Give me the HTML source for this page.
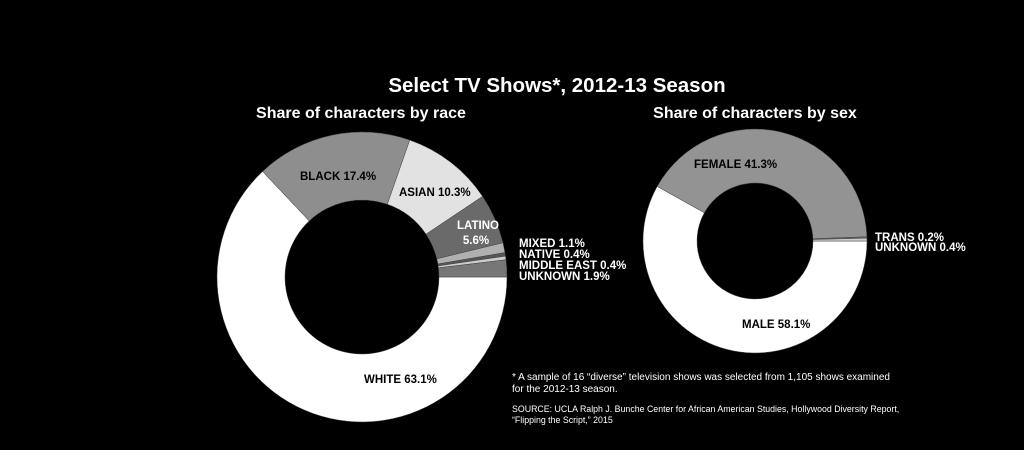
<!DOCTYPE html>
<html><head><meta charset="utf-8"><style>
body{margin:0;background:#000;width:1024px;height:445px;overflow:hidden;font-family:"Liberation Sans",sans-serif}
svg text{font-family:"Liberation Sans",sans-serif}
</style></head><body>
<svg id="chart" width="1024" height="445">
<text x="557" y="92" text-anchor="middle" fill="#fff" font-size="20.5" font-weight="bold">Select TV Shows*, 2012-13 Season</text>
<text x="361" y="118" text-anchor="middle" fill="#fff" font-size="16" font-weight="bold">Share of characters by race</text>
<text x="755" y="118" text-anchor="middle" fill="#fff" font-size="16" font-weight="bold">Share of characters by sex</text>
<g id="race"></g><g id="sex"></g>
<g fill="#000" font-size="11.5" font-weight="bold">
<text x="300" y="180">BLACK 17.4%</text>
<text x="399" y="196">ASIAN 10.3%</text>
<text x="478" y="229" text-anchor="middle" fill="#fff">LATINO</text>
<text x="476" y="244" text-anchor="middle" fill="#fff">5.6%</text>
<text x="364" y="383">WHITE 63.1%</text>
<text x="694" y="168">FEMALE 41.3%</text>
<text x="742" y="328">MALE 58.1%</text>
</g>
<g fill="#fff" font-size="11.5" font-weight="bold">
<text x="519" y="247">MIXED 1.1%</text>
<text x="519" y="258">NATIVE 0.4%</text>
<text x="519" y="269">MIDDLE EAST 0.4%</text>
<text x="519" y="280">UNKNOWN 1.9%</text>
<text x="875" y="241">TRANS 0.2%</text>
<text x="875" y="251">UNKNOWN 0.4%</text>
</g>
<g fill="#fff" font-size="10">
<text x="512" y="380">* A sample of 16 “diverse” television shows was selected from 1,105 shows examined</text>
<text x="512" y="392">for the 2012-13 season.</text>
<text x="512" y="412" font-size="8.8">SOURCE: UCLA Ralph J. Bunche Center for African American Studies, Hollywood Diversity Report,</text>
<text x="512" y="423" font-size="8.8">“Flipping the Script,” 2015</text>
</g>
</svg>
<script>
const raceCategories=["white","black","asian","latino","mixed","native","middle-east","unknown"];
const raceValues=[63.1,17.4,10.3,5.6,1.1,0.4,0.4,1.9];
const raceColors=["#ffffff","#8e8e8e","#e2e2e2","#6a6a6a","#b0b0b0","#555555","#cccccc","#777777"];
const sexCategories=["male","female","trans","unknown"];
const sexValues=[58.1,41.3,0.2,0.4];
const sexColors=["#ffffff","#939393","#666666","#cccccc"];
const NS="http://www.w3.org/2000/svg";
function donut(g,cats,vals,cols,cx,cy,R,r){
  const tot=vals.reduce((a,b)=>a+b,0);let a0=0;
  vals.forEach((v,i)=>{
    const a1=a0+v/tot*2*Math.PI;
    const p=(a,rad)=>[cx+rad*Math.cos(a),cy+rad*Math.sin(a)];
    const [x0,y0]=p(a0,R),[x1,y1]=p(a1,R),[x2,y2]=p(a1,r),[x3,y3]=p(a0,r);
    const lg=(a1-a0)>Math.PI?1:0;
    const el=document.createElementNS(NS,"path");
    el.setAttribute("d",`M${x0},${y0}A${R},${R} 0 ${lg} 1 ${x1},${y1}L${x2},${y2}A${r},${r} 0 ${lg} 0 ${x3},${y3}Z`);
    el.setAttribute("fill",cols[i]);el.setAttribute("stroke","#444");el.setAttribute("stroke-width","0.5");
    
    
    g.appendChild(el);a0=a1;
  });
}
donut(document.getElementById("race"),raceCategories,raceValues,raceColors,362,277,145,77);
donut(document.getElementById("sex"),sexCategories,sexValues,sexColors,755,241,112,58);
</script>
</body></html>
